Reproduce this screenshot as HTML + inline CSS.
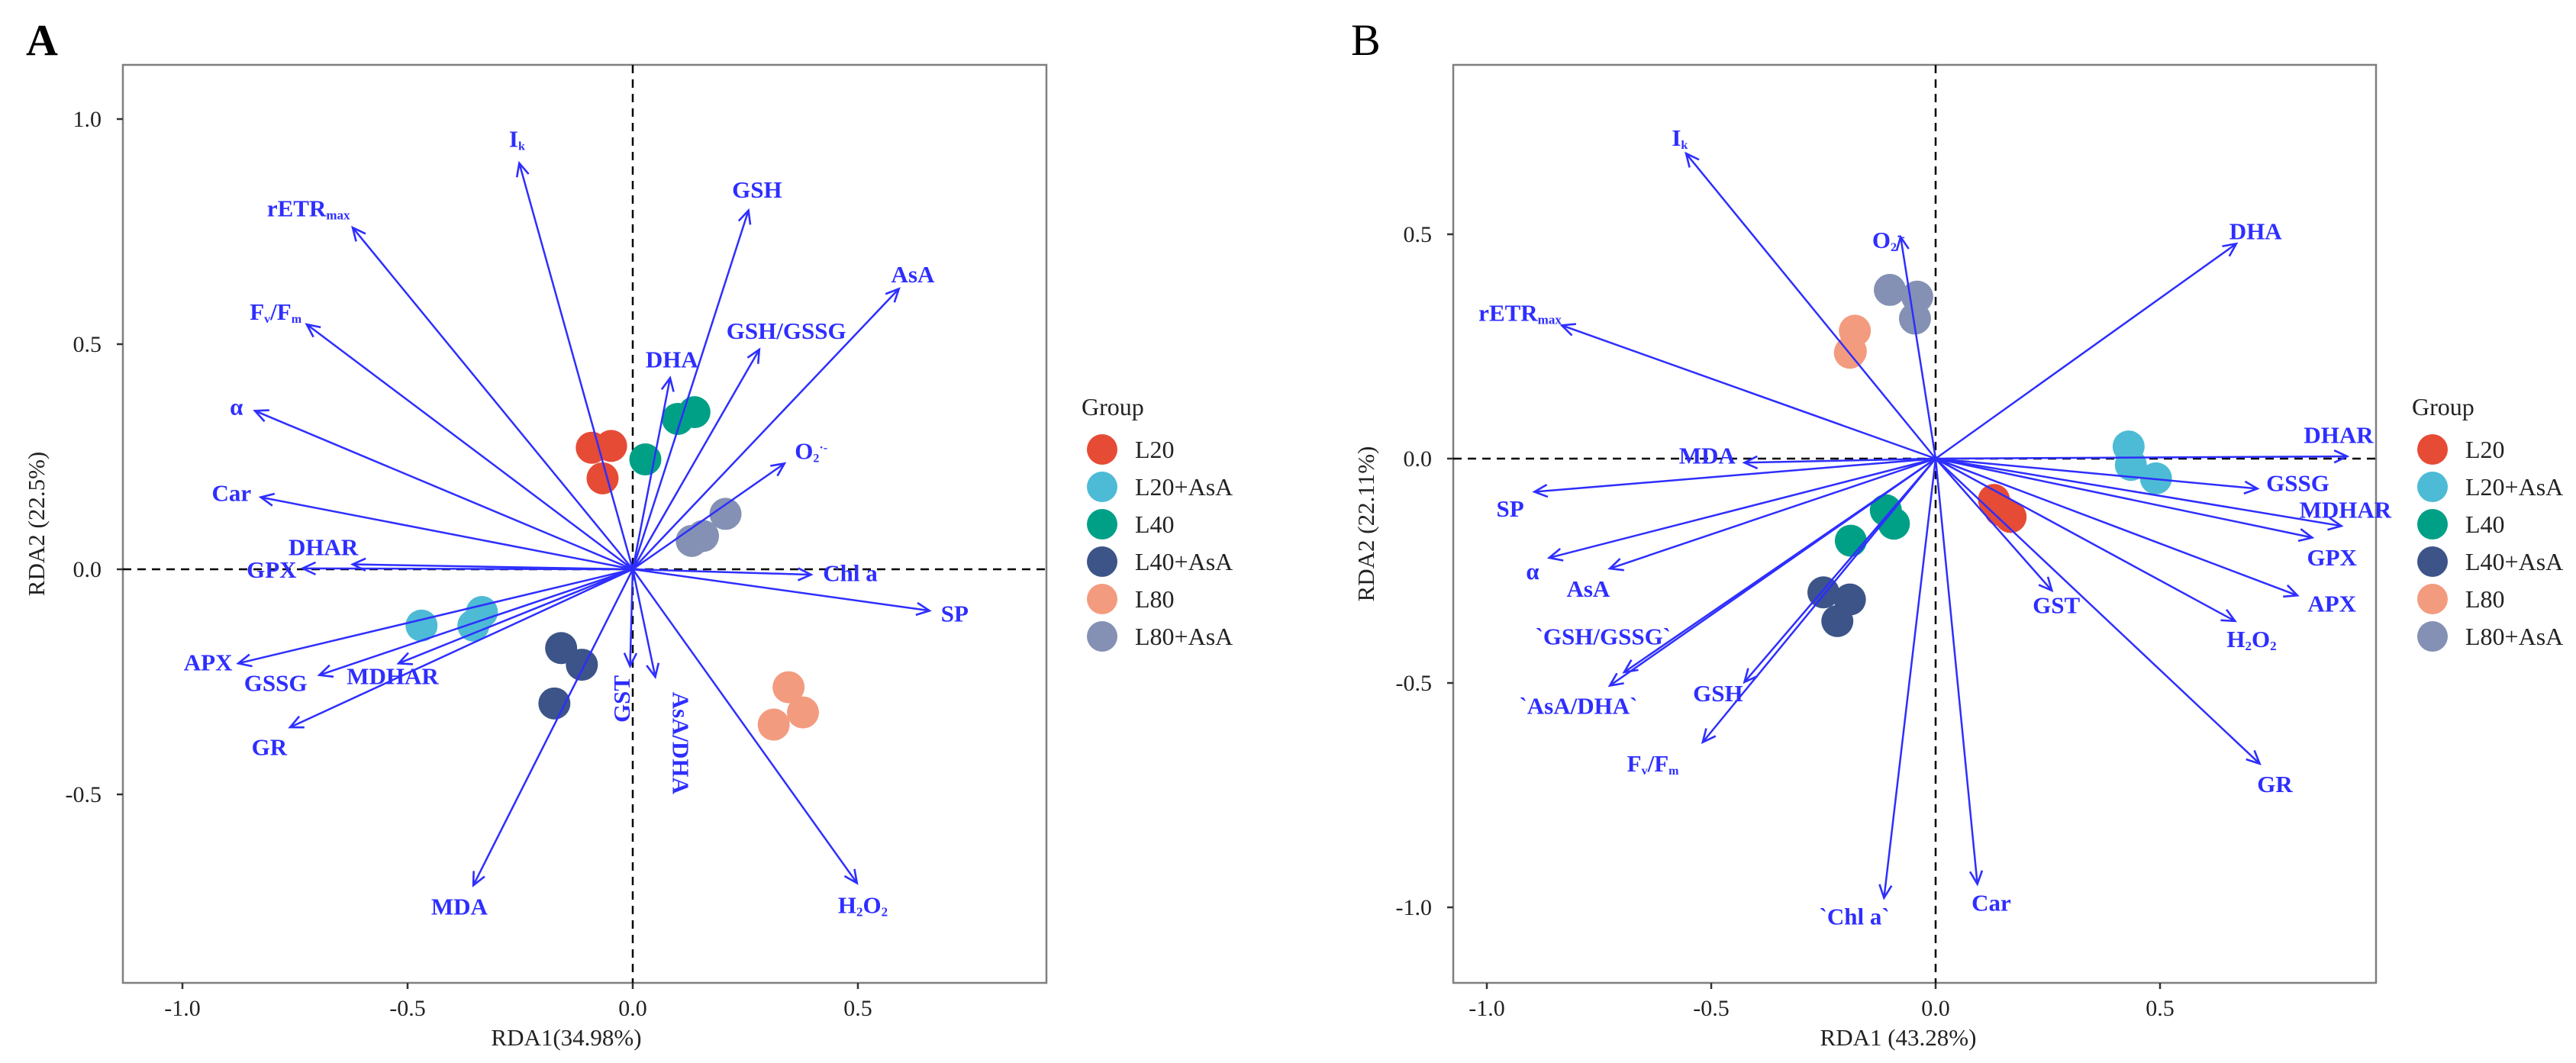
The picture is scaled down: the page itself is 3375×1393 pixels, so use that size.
<!DOCTYPE html>
<html><head><meta charset="utf-8">
<style>
html,body{margin:0;padding:0;background:#fff;}
svg{display:block;}
text{font-family:"Liberation Serif",serif;}
</style></head>
<body>
<svg id="fig" width="3375" height="1393" viewBox="0 0 3375 1393" xmlns="http://www.w3.org/2000/svg">
<defs>
<marker id="ah" viewBox="0 0 20 20" refX="18" refY="10" markerWidth="20" markerHeight="20" markerUnits="userSpaceOnUse" orient="auto" style="overflow:visible">
<path d="M1,2 L18,10 L1,18" fill="none" stroke="#2e2eff" stroke-width="2.6"/>
</marker>
</defs>
</svg>
<script>
// ---------- Panel A data ----------
const aVarNames = ["Ik","rETRmax","FvFm","alpha","Car","DHAR","GPX","APX","GSSG","MDHAR","GR","MDA","GST","AsA/DHA","H2O2","SP","Chl a","O2","AsA","GSH/GSSG","GSH","DHA"];
const aVarLabels = ["I<tspan font-size='16' dy='4'>k</tspan>","rETR<tspan font-size='17' dy='4'>max</tspan>","F<tspan font-size='16' dy='4'>v</tspan><tspan dy='-4'>/F</tspan><tspan font-size='16' dy='4'>m</tspan>","α","Car","DHAR","GPX","APX","GSSG","MDHAR","GR","MDA","GST","AsA/DHA","H<tspan font-size='17' dy='4'>2</tspan><tspan dy='-4'>O</tspan><tspan font-size='17' dy='4'>2</tspan>","SP","Chl a","O<tspan font-size='16' dy='4'>2</tspan><tspan font-size='16' dy='-14'>·-</tspan>","AsA","GSH/GSSG","GSH","DHA"];
const aVarX = [-0.252,-0.622,-0.724,-0.839,-0.826,-0.622,-0.733,-0.876,-0.696,-0.520,-0.761,-0.354,-0.006,0.05,0.498,0.659,0.396,0.337,0.591,0.281,0.257,0.083];
const aVarY = [0.902,0.759,0.544,0.352,0.160,0.011,0.002,-0.209,-0.235,-0.209,-0.351,-0.702,-0.215,-0.239,-0.697,-0.092,-0.012,0.235,0.623,0.488,0.797,0.425];
const aLabX = [-0.257,-0.72,-0.793,-0.88,-0.891,-0.687,-0.802,-0.943,-0.793,-0.533,-0.807,-0.385,-0.024,0.106,0.511,0.715,0.483,0.396,0.622,0.341,0.276,0.087];
const aLabY = [0.955,0.801,0.571,0.36,0.169,0.048,-0.002,-0.208,-0.253,-0.238,-0.396,-0.750,-0.288,-0.386,-0.747,-0.099,-0.009,0.262,0.654,0.529,0.842,0.465];
const aLabRot = [0,0,0,0,0,0,0,0,0,0,0,0,-90,90,0,0,0,0,0,0,0,0];
const aPtGroup = ["L20","L20","L20","L40","L40","L40","L80+AsA","L80+AsA","L80+AsA","L20+AsA","L20+AsA","L20+AsA","L40+AsA","L40+AsA","L40+AsA","L80","L80","L80"];
const aPtX = [-0.091,-0.048,-0.067,0.1,0.137,0.028,0.206,0.156,0.131,-0.469,-0.335,-0.354,-0.159,-0.113,-0.174,0.346,0.378,0.313];
const aPtY = [0.27,0.274,0.202,0.334,0.349,0.244,0.123,0.074,0.063,-0.125,-0.095,-0.125,-0.175,-0.212,-0.298,-0.262,-0.318,-0.345];
const aXTicks = [-1.0,-0.5,0.0,0.5];
const aYTicks = [-0.5,0.0,0.5,1.0];

// ---------- Panel B data ----------
const bVarNames = ["Ik","O2","DHA","rETRmax","MDA","SP","alpha","AsA","GSH/GSSG","AsA/DHA","GSH","FvFm","Chl a","Car","GST","H2O2","GR","APX","GPX","MDHAR","GSSG","DHAR"];
const bVarLabels = ["I<tspan font-size='16' dy='4'>k</tspan>","O<tspan font-size='16' dy='4'>2</tspan><tspan font-size='16' dy='-14'>·-</tspan>","DHA","rETR<tspan font-size='17' dy='4'>max</tspan>","MDA","SP","α","AsA","`GSH/GSSG`","`AsA/DHA`","GSH","F<tspan font-size='16' dy='4'>v</tspan><tspan dy='-4'>/F</tspan><tspan font-size='16' dy='4'>m</tspan>","`Chl a`","Car","GST","H<tspan font-size='17' dy='4'>2</tspan><tspan dy='-4'>O</tspan><tspan font-size='17' dy='4'>2</tspan>","GR","APX","GPX","MDHAR","GSSG","DHAR"];
const bVarX = [-0.556,-0.078,0.670,-0.833,-0.426,-0.894,-0.861,-0.726,-0.694,-0.726,-0.426,-0.519,-0.115,0.093,0.259,0.667,0.722,0.806,0.839,0.904,0.717,0.917];
const bVarY = [0.680,0.494,0.479,0.297,-0.009,-0.074,-0.221,-0.245,-0.476,-0.506,-0.498,-0.632,-0.979,-0.948,-0.294,-0.362,-0.680,-0.305,-0.176,-0.15,-0.067,0.005];
const bLabX = [-0.570,-0.105,0.713,-0.926,-0.509,-0.948,-0.898,-0.774,-0.741,-0.796,-0.485,-0.630,-0.181,0.124,0.269,0.704,0.756,0.883,0.883,0.913,0.807,0.898];
const bLabY = [0.714,0.486,0.506,0.324,0.006,-0.112,-0.252,-0.291,-0.397,-0.552,-0.524,-0.680,-1.021,-0.991,-0.327,-0.403,-0.726,-0.324,-0.221,-0.115,-0.055,0.052];
const bPtGroup = ["L80+AsA","L80+AsA","L80+AsA","L80","L80","L80","L20+AsA","L20+AsA","L20+AsA","L20","L20","L20","L40","L40","L40","L40+AsA","L40+AsA","L40+AsA"];
const bPtX = [-0.102,-0.041,-0.046,-0.18,-0.189,-0.191,0.43,0.435,0.491,0.13,0.144,0.167,-0.111,-0.093,-0.189,-0.25,-0.191,-0.219];
const bPtY = [0.376,0.361,0.312,0.285,0.239,0.236,0.027,-0.014,-0.044,-0.092,-0.115,-0.130,-0.115,-0.145,-0.183,-0.298,-0.314,-0.362];
const bXTicks = [-1.0,-0.5,0.0,0.5];
const bYTicks = [-1.0,-0.5,0.0,0.5];

const groups = ["L20","L20+AsA","L40","L40+AsA","L80","L80+AsA"];
const groupColors = ["#E64B35","#4DBBD5","#00A087","#3C5488","#F39B7F","#8491B4"];

const NS = "http://www.w3.org/2000/svg";
const svg = document.getElementById("fig");
function mk(tag, attrs, parent){const e=document.createElementNS(NS,tag);for(const k in attrs)e.setAttribute(k,attrs[k]);(parent||svg).appendChild(e);return e;}
function fmt(v){return v.toFixed(1);}

function panel(cfg){
  const g = mk("g",{});
  
  
  const sx = v => cfg.ox + v*cfg.sc;
  const sy = v => cfg.oy - v*cfg.sc;
  const pl = mk("text",{x:cfg.letterX,y:72,"font-size":58,"font-weight":cfg.letterBold?"bold":"normal",fill:"#000"},g);
  pl.textContent = cfg.letter;
  
  
  const box = mk("rect",{x:cfg.L,y:cfg.T,width:cfg.R-cfg.L,height:cfg.B-cfg.T,fill:"none",stroke:"#7f7f7f","stroke-width":2.5},g);
  
  
  const h = mk("line",{x1:cfg.L,x2:cfg.R,y1:sy(0),y2:sy(0),stroke:"#000","stroke-width":2.5,"stroke-dasharray":"11,8"},g);
  
  
  const v = mk("line",{x1:sx(0),x2:sx(0),y1:cfg.T,y2:cfg.B,stroke:"#000","stroke-width":2.5,"stroke-dasharray":"11,8"},g);
  
  
  cfg.xt.forEach(t=>{
    const l = mk("line",{x1:sx(t),x2:sx(t),y1:cfg.B,y2:cfg.B+8,stroke:"#333","stroke-width":2.5},g);
    
    
    const tx = mk("text",{x:sx(t),y:cfg.B+43,"font-size":30,"text-anchor":"middle",fill:"#222"},g);
    tx.textContent = fmt(t);
    
    
  });
  cfg.yt.forEach(t=>{
    const l = mk("line",{x1:cfg.L-8,x2:cfg.L,y1:sy(t),y2:sy(t),stroke:"#333","stroke-width":2.5},g);
    
    
    const tx = mk("text",{x:cfg.L-28,y:sy(t)+10,"font-size":30,"text-anchor":"end",fill:"#222"},g);
    tx.textContent = fmt(t);
    
    
  });
  const xtT = mk("text",{x:cfg.xTitleX,y:1370,"font-size":31,"text-anchor":"middle",fill:"#222"},g);
  xtT.textContent = cfg.xTitle;
  
  
  const ytT = mk("text",{x:0,y:0,"font-size":31,"text-anchor":"middle",fill:"#222",transform:`translate(${cfg.yTitleX},${(cfg.T+cfg.B)/2}) rotate(-90)`},g);
  ytT.textContent = cfg.yTitle;
  
  
  cfg.px.forEach((x,i)=>{
    const c = mk("circle",{cx:sx(x),cy:sy(cfg.py[i]),r:21,fill:groupColors[groups.indexOf(cfg.pg[i])]},g);
    
    
  });
  cfg.vx.forEach((x,i)=>{
    const a = mk("line",{x1:sx(0),y1:sy(0),x2:sx(x),y2:sy(cfg.vy[i]),stroke:"#2e2eff","stroke-width":2.5,"marker-end":"url(#ah)"},g);
    
    
  });
  cfg.lx.forEach((x,i)=>{
    const cx = sx(x), cy = sy(cfg.ly[i]);
    const r = cfg.lr ? cfg.lr[i] : 0;
    const t = mk("text",{x:0,y:10,"font-size":31,"font-weight":"bold","text-anchor":"middle",fill:"#2e2eff",transform:`translate(${cx},${cy}) rotate(${r})`},g);
    t.innerHTML = cfg.ll[i];
    
    
  });
  const lg = mk("g",{},g);
  
  
  const lt = mk("text",{x:cfg.legX,y:544,"font-size":32,fill:"#222"},lg);
  lt.textContent = "Group";
  
  
  groups.forEach((gname,i)=>{
    const y = 589 + i*49;
    const c = mk("circle",{cx:cfg.legX+27,cy:y,r:20,fill:groupColors[i]},lg);
    
    
    const t = mk("text",{x:cfg.legX+70,y:y+11,"font-size":32,fill:"#222"},lg);
    t.textContent = gname;
    
    
  });
}

panel({name:"panel-a",letter:"A",letterBold:true,letterX:34,L:161,R:1371,T:85,B:1288,ox:829,oy:746,sc:590,
  xt:aXTicks,yt:aYTicks,xTitle:"RDA1(34.98%)",xTitleX:742,yTitle:"RDA2 (22.5%)",yTitleX:58,
  px:aPtX,py:aPtY,pg:aPtGroup,vx:aVarX,vy:aVarY,vn:aVarNames,lx:aLabX,ly:aLabY,ll:aVarLabels,lr:aLabRot,legX:1417});
panel({name:"panel-b",letter:"B",letterBold:false,letterX:1770,L:1904,R:3113,T:85,B:1288,ox:2536,oy:601,sc:588,
  xt:bXTicks,yt:bYTicks,xTitle:"RDA1 (43.28%)",xTitleX:2487,yTitle:"RDA2 (22.11%)",yTitleX:1800,
  px:bPtX,py:bPtY,pg:bPtGroup,vx:bVarX,vy:bVarY,vn:bVarNames,lx:bLabX,ly:bLabY,ll:bVarLabels,lr:null,legX:3160});
</script>
</body></html>
